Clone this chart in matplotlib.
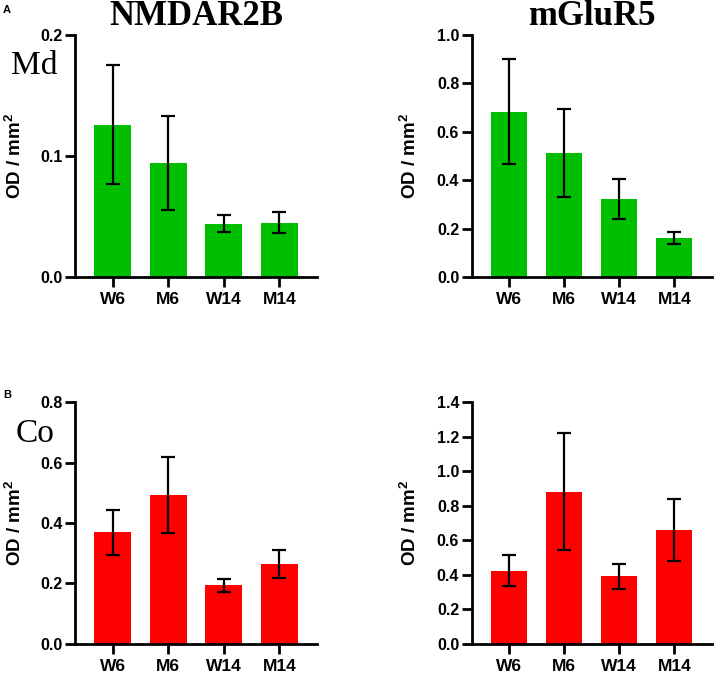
import matplotlib
matplotlib.use("Agg")
import matplotlib.pyplot as plt

plt.rcParams["mathtext.fontset"] = "custom"
plt.rcParams["mathtext.rm"] = "Liberation Sans"
plt.rcParams["mathtext.bf"] = "Liberation Sans:bold"

categories = ["W6", "M6", "W14", "M14"]

md_nmdar2b = [0.126, 0.094, 0.044, 0.045]
md_nmdar2b_err = [0.049, 0.039, 0.0072, 0.0085]
md_mglur5 = [0.683, 0.514, 0.323, 0.162]
md_mglur5_err = [0.218, 0.182, 0.083, 0.024]
co_nmdar2b = [0.369, 0.494, 0.193, 0.264]
co_nmdar2b_err = [0.075, 0.126, 0.022, 0.047]
co_mglur5 = [0.424, 0.882, 0.390, 0.660]
co_mglur5_err = [0.092, 0.339, 0.073, 0.178]

W, H = 718, 678
fig = plt.figure(figsize=(W / 100, H / 100), dpi=100)

def px_axes(l, r, t, b):
    return fig.add_axes([l / W, 1 - b / H, (r - l) / W, (b - t) / H])

GREEN = "#00BF00"
RED = "#FF0000"
sans = "Liberation Sans"
serif = "Liberation Serif"

panels = [
    (px_axes(75, 317, 35, 277), md_nmdar2b, md_nmdar2b_err, GREEN, 0.2, [0.0, 0.1, 0.2], -0.205),
    (px_axes(471.7, 711.7, 35, 277), md_mglur5, md_mglur5_err, GREEN, 1.0, [0.0, 0.2, 0.4, 0.6, 0.8, 1.0], -0.215),
    (px_axes(75, 317, 402.3, 643.7), co_nmdar2b, co_nmdar2b_err, RED, 0.8, [0.0, 0.2, 0.4, 0.6, 0.8], -0.205),
    (px_axes(471.7, 711.7, 402.3, 643.7), co_mglur5, co_mglur5_err, RED, 1.4, [0.0, 0.2, 0.4, 0.6, 0.8, 1.0, 1.2, 1.4], -0.215),
]

for ax, vals, errs, col, ymax, yt, lx in panels:
    x = list(range(len(categories)))
    ax.bar(x, vals, width=0.66, color=col, edgecolor="none", zorder=2)
    ax.errorbar(x, vals, yerr=errs, fmt="none", ecolor="black", elinewidth=1.6,
                capsize=5, capthick=1.6, zorder=3)
    ax.set_xlim(-0.68, 3.68)
    ax.set_ylim(0, ymax)
    ax.set_yticks(yt)
    ax.set_yticklabels(["{:.1f}".format(v) for v in yt], fontfamily=sans, fontweight="bold", fontsize=11.5)
    ax.set_xticks(x)
    ax.set_xticklabels(categories, fontfamily=sans, fontweight="bold", fontsize=12.5)
    for s in ["top", "right"]:
        ax.spines[s].set_visible(False)
    for s in ["left", "bottom"]:
        ax.spines[s].set_linewidth(2.0)
        ax.spines[s].set_zorder(4)
    ax.tick_params(axis="both", width=2.0, length=7, direction="out")
    ax.tick_params(axis="x", pad=4)
    ax.tick_params(axis="y", pad=2)
    ax.set_ylabel(r"OD / mm$^{\mathbf{2}}$", fontfamily=sans, fontweight="bold", fontsize=13.5)
    ax.yaxis.set_label_coords(lx, 0.5)

panels[0][0].set_title("NMDAR2B", fontfamily=serif, fontweight="bold", fontsize=25, pad=7)
panels[1][0].set_title("mGluR5", fontfamily=serif, fontweight="bold", fontsize=25, pad=7)

fig.text(11 / W, 1 - 74 / H, "Md", fontfamily=serif, fontsize=24, ha="left", va="baseline")
fig.text(16 / W, 1 - 441.7 / H, "Co", fontfamily=serif, fontsize=24, ha="left", va="baseline")
fig.text(3 / W, 1 - 13 / H, "A", fontfamily=sans, fontweight="bold", fontsize=8, ha="left", va="baseline")
fig.text(3 / W, 1 - 398 / H, "B", fontfamily=sans, fontweight="bold", fontsize=8, ha="left", va="baseline")

fig.savefig("out.png", dpi=100)
